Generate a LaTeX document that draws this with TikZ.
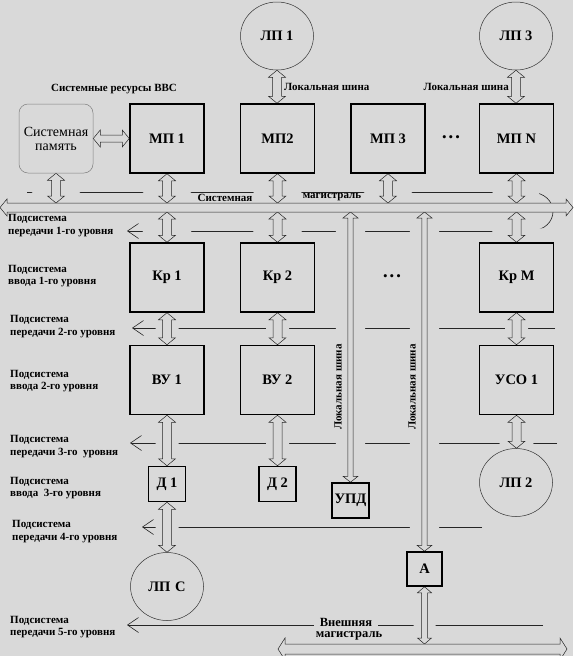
\documentclass[tikz,border=0pt]{standalone}
\usepackage{fontspec}
\setmainfont{Liberation Serif}
\usetikzlibrary{arrows.meta,positioning,calc,shapes.geometric,backgrounds}
\definecolor{bg}{HTML}{D9D9D9}
\newcommand{\boxfont}{\fontsize{14.5}{16}\selectfont\bfseries}
\newcommand{\notefont}{\fontsize{11}{12.5}\selectfont\bfseries}
\newcommand{\extfont}{\fontsize{12.5}{12}\selectfont\bfseries}

\tikzset{
  linkshaft/.store in=\lkShaft, linkhead/.store in=\lkHead,
  linkheadlen/.store in=\lkLen, linkhalo/.store in=\lkHalo,
  linkshaft=4.5pt, linkhead=8.5pt, linkheadlen=7pt, linkhalo=14pt,
  hollow/.style={draw=black!85, line width=0.5pt, fill=bg,
    to path={let \p1=(\tikztostart), \p2=(\tikztotarget),
      \n1={veclen(\x2-\x1,\y2-\y1)}, \n2={atan2(\y2-\y1,\x2-\x1)} in
      [shift={(\p1)}, rotate=\n2]
      (0pt,0pt) -- (\lkLen,\lkHead) -- (\lkLen,\lkShaft) -- (\n1-\lkLen,\lkShaft)
      -- (\n1-\lkLen,\lkHead) -- (\n1,0pt) -- (\n1-\lkLen,-\lkHead)
      -- (\n1-\lkLen,-\lkShaft) -- (\lkLen,-\lkShaft) -- (\lkLen,-\lkHead) -- cycle}},
  link/.style={hollow, preaction={draw=bg, line width=\lkHalo}},
}

\begin{document}
\begin{tikzpicture}[x=1pt,y=-1pt,
  unit/.style={draw, line width=1.5pt, minimum width=74pt, minimum height=69pt, inner sep=0pt, font=\boxfont},
  small unit/.style={unit, minimum width=37pt, minimum height=35pt},
  station/.style={ellipse, draw=black!80, line width=0.5pt, minimum width=73pt, minimum height=68pt, inner sep=0pt, font=\boxfont},
  memory/.style={draw=black!50, line width=0.5pt, rounded corners=9pt, minimum width=74pt, minimum height=69pt,
    inner sep=0pt, align=center, font=\fontsize{14}{14}\selectfont},
  thinline/.style={draw=black!85, line width=0.6pt},
  lvl/.style={thinline, -{Straight Barb[length=11pt,width=15pt]}},
  note/.style={font=\notefont, inner sep=1pt},
  sublabel/.style={note, anchor=west, align=left, inner sep=0pt},
  dots/.style={font=\fontsize{13}{13}\selectfont},
]
\useasboundingbox (0,0) rectangle (573,656);
\clip (0,0) rectangle (573,656);

% processors, controllers, devices
\node[station] (lp1) at (277,36) {ЛП 1};
\node[station] (lp3) at (516,36) {ЛП 3};
\node[memory] (mem) at (56,138.5) {Системная\\память};
\foreach \name/\x/\txt in {mp1/167/МП 1, mp2/277.5/МП2, mp3/388/МП 3, mpN/516.5/МП N}
  \node[unit] (\name) at (\x,138.5) {\txt};
\foreach \name/\x/\txt in {kr1/167/Кр 1, kr2/277.5/Кр 2, krM/516.5/Кр М}
  \node[unit] (\name) at (\x,277.5) {\txt};
\foreach \name/\x/\txt in {vu1/167/ВУ 1, vu2/277.5/ВУ 2, uso/516.5/УСО 1}
  \node[unit] (\name) at (\x,380) {\txt};
\node[dots] (dotsA) at (451,138.5) {•\hspace{2pt}•\hspace{2pt}•};
\node[dots] (dotsB) at (392,277.5) {•\hspace{2pt}•\hspace{2pt}•};
\node[small unit] (d1) at (167,484) {Д 1};
\node[small unit] (d2) at (277.5,484) {Д 2};
\node[small unit] (upd) at (350.5,500.5) {УПД};
\node[small unit, minimum width=35pt, minimum height=34pt] (a) at (424.5,569) {А};
\node[station] (lp2) at (516,482.5) {ЛП 2};
\node[station] (lpc) at (167,586.5) {ЛП\,\,С};

% bus coordinates
\coordinate (busL) at (0,207.5);  \coordinate (busR) at (573,207.5);
\coordinate (busT) at (0,203);    \coordinate (busB) at (0,212);
\coordinate (extL) at (278,649);  \coordinate (extR) at (567,649);
\coordinate (extT) at (0,644);
\coordinate (sysL) at (27,192);
\coordinate (arcT) at (529,192);  \coordinate (arcB) at (529,231);

\begin{scope}[on background layer]
  \fill[bg] (0,0) rectangle (573,656);
  % subsystem lines
  \draw[thinline] (sysL) -- (arcT);
  \draw[thinline] (arcT) .. controls (561,192) and (561,231) .. (arcB);
  \coordinate (lvlE1) at (127,231);
  \draw[lvl] (arcB) -- (lvlE1);
  \foreach \i/\y/\xr/\xl in {2/328/555/132, 3/443/557/130, 4/527/482/142, 5/625/543/127}{
    \coordinate (lvlS\i) at (\xr,\y);
    \coordinate (lvlE\i) at (\xl,\y);
    \draw[lvl] (lvlS\i) -- (lvlE\i);
  }
  % links
  \path[link, linkshaft=3.5pt] (mem.east) to (mp1.west);
  \path[link] (lp1.south) to (lp1.south |- mp2.north);
  \path[link] (lp3.south) to (lp3.south |- mpN.north);
  \foreach \u in {mem,mp1,mp2,mp3,mpN}
    \path[link] (\u.south) to (\u.south |- busT);
  \foreach \u in {kr1,kr2,krM}
    \path[link] (\u.north |- busB) to (\u.north);
  \foreach \u in {upd,a}
    \path[link, linkshaft=2.6pt, linkhead=7.5pt, linkheadlen=6pt, linkhalo=24pt] (\u.north |- busB) to (\u.north);
  \foreach \u/\v in {kr1/vu1, kr2/vu2, krM/uso, vu1/d1, vu2/d2, uso/lp2, d1/lpc}
    \path[link] (\u.south) to (\u.south |- \v.north);
  \path[link, linkshaft=3pt, linkhead=7pt, linkheadlen=6pt, linkhalo=16pt] (a.south) to (a.south |- extT);
  % buses
  \path[hollow] (busL) to (busR);
  \path[hollow, linkshaft=5pt, linkhead=11pt, linkheadlen=7pt] (extL) to (extR);
\end{scope}

% labels
\node[note] (resLbl) at (114,89) {Системные ресурсы ВВС};
\node[note, anchor=west] (lsh1) at (283,87) {Локальная шина};
\node[note, anchor=east] (lsh3) at (510,87) {Локальная шина};
\node[note] (sysA) at (225,197.5) {Системная};
\node[note] (sysB) at (332,197.5) {магистраль};
\node[note, rotate=90] (lshU) at (338,387) {Локальная шина};
\node[note, rotate=90] (lshA) at (412,387) {Локальная шина};
\node[font=\extfont, fill=bg, inner xsep=6pt, inner ysep=0pt] (extA) at (346,622) {Внешняя};
\node[font=\extfont, inner sep=0pt] (extB) at (349,636) {магистраль};
\foreach \x/\y/\txt [count=\i] in {8/225.5/передачи 1-го уровня, 8/276/ввода 1-го уровня,
    10/326.5/передачи 2-го уровня, 10/381/ввода 2-го уровня,
    10/446.5/передачи 3-го\ \ уровня, 10/488/ввода\ \ 3-го уровня,
    12/531.5/передачи 4-го уровня, 10/627/передачи 5-го уровня}
  \node[sublabel] (sub\i) at (\x,\y) {Подсистема\\\txt};
\end{tikzpicture}
\end{document}
